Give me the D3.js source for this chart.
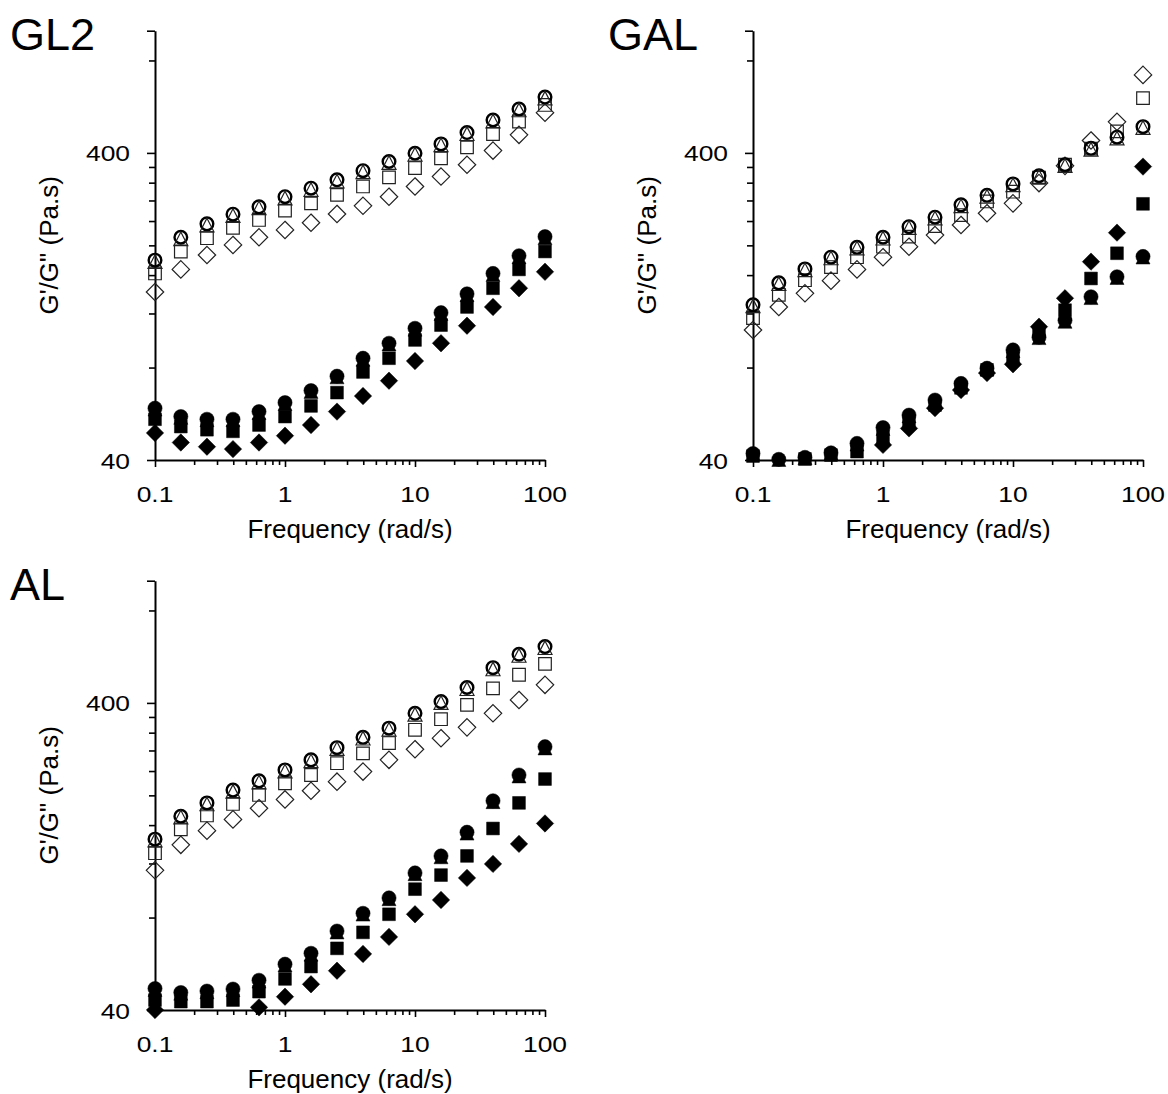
<!DOCTYPE html>
<html>
<head>
<meta charset="utf-8">
<script src="https://cdn.jsdelivr.net/npm/d3@7"></script>
<style>
    body { margin: 0; background: #fff; }
    svg text { font-family: "Liberation Sans", Arial, sans-serif; fill: #000; }
</style>
</head>
<body>
<svg id="chart" width="1168" height="1094"></svg>
<script>
// frequency sweep (rad/s)
var freq = [0.1, 0.158, 0.251, 0.398, 0.631, 1, 1.585, 2.512, 3.981, 6.31, 10, 15.85, 25.12, 39.81, 63.1, 100];

var xMajor = [0.1, 1, 10, 100];
var xMinor = [0.2, 0.3, 0.4, 0.5, 0.6, 0.7, 0.8, 0.9, 2, 3, 4, 5, 6, 7, 8, 9, 20, 30, 40, 50, 60, 70, 80, 90];
var yMajor = [40, 400, 1000];
var yMinor = [80, 120, 160, 200, 240, 280, 320, 360, 800];
var yLabels = [40, 400];

// GL2 : G' open, G'' filled
var gl2OpenCircle = [179, 212.5, 235, 252.6, 267, 288, 307, 327, 350, 375, 399, 428, 466, 512, 556, 608];
var gl2OpenTriangle = [177, 210, 233, 250, 265, 285, 304, 324, 347, 372, 396, 425, 462, 508, 552, 603];
var gl2OpenSquare = [162, 191, 211, 228, 242, 259.5, 274, 292, 311, 333, 357, 384, 417, 461, 506, 573];
var gl2OpenDiamond = [141, 167, 186, 200.6, 212.5, 224.5, 237, 253, 269, 288, 311, 335, 366, 407, 458, 541];
var gl2FillCircle = [59, 55.4, 54.3, 54.3, 57.5, 61.5, 67.3, 75, 85.8, 96, 107.4, 120.7, 139, 162, 185, 213.5];
var gl2FillTriangle = [58.5, 55, 54, 54, 57, 61, 66.8, 74.5, 85, 95.3, 106.5, 119.8, 138, 160.5, 183.5, 211.5];
var gl2FillSquare = [54.3, 51.4, 50.2, 49.6, 52, 55.4, 60, 66.3, 77.4, 85.8, 98.4, 110, 126, 145, 167, 191];
var gl2FillDiamond = [49, 45.6, 44.2, 43.4, 45.6, 48, 52, 57.5, 64.6, 72.5, 84, 96, 109.5, 126, 145, 164];

// GAL
var galOpenCircle = [128, 151, 167.6, 183, 197, 212.5, 230, 247, 271, 291, 317, 337, 366, 414, 450, 487];
var galOpenTriangle = [127, 150, 166.5, 182, 196, 211, 228.5, 245.5, 269, 289, 315, 335, 364, 411, 447, 484];
var galOpenSquare = [116, 138, 154, 170, 183, 198, 213.5, 231, 251, 278, 299, 332, 366, 413, 470, 603];
var galOpenDiamond = [106, 126, 139.6, 153.5, 167, 183, 198, 216, 233, 254.5, 274, 319, 363, 439, 505, 718];
var galFillCircle = [42, 40.2, 40.8, 42.2, 45.3, 51, 56, 62.7, 71, 79.6, 91.3, 100.4, 114, 136, 158, 184];
var galFillTriangle = [41.8, 40.1, 40.6, 42, 45, 50.6, 55.6, 62.3, 70.6, 79, 90.6, 100, 113, 135, 157, 183];
var galFillSquare = [41.2, 39.8, 40.3, 41.5, 42.6, 47.6, 53.3, 60.4, 68.7, 78.6, 85.8, 104.7, 123, 156, 188.5, 273];
var galFillDiamond = [38, 36.5, 37, 38, 39, 44.8, 50.7, 59, 67.6, 76.8, 82, 108.7, 134.5, 177, 220, 361];

// AL
var alOpenCircle = [144, 171, 189, 208, 223, 242, 261, 286, 309, 331, 370, 404, 449, 521, 576, 610];
var alOpenTriangle = [143, 170, 187.5, 206, 221, 240, 259, 284, 307, 328, 367, 401, 445, 516, 571, 605];
var alOpenSquare = [129.6, 155, 172, 187.5, 200.6, 219, 233, 254.5, 274, 296, 327, 354, 394, 446, 494, 536];
var alOpenDiamond = [114, 138, 153.5, 167, 181.6, 194, 207, 221.6, 239, 261, 282.6, 307, 333, 370, 409, 458];
var alFillCircle = [47, 45.6, 46.1, 46.8, 50, 56.4, 61.2, 72.3, 82.6, 92.7, 111.8, 127, 151.7, 192, 233, 288];
var alFillTriangle = [46.6, 45.3, 45.8, 46.5, 49.6, 56, 60.7, 71.7, 82, 92, 111, 126, 150.5, 190.5, 231, 285];
var alFillSquare = [43.1, 42.6, 42.6, 43.1, 45.9, 50.5, 55.4, 63.5, 71.6, 82, 99, 110, 127, 156, 189, 226];
var alFillDiamond = [40, 38.5, 38, 38.2, 40.8, 44.2, 48.5, 53.7, 60.9, 69.2, 82, 91.3, 107.7, 119.6, 139, 162];

var plotWidth = 390,
    plotHeight = 429.3;

var panels = [
    {
        title: 'GL2', left: 155, top: 30.7, titleX: 10, labelX: 58,
        series: {
            openCircle: gl2OpenCircle, openTriangle: gl2OpenTriangle, openSquare: gl2OpenSquare, openDiamond: gl2OpenDiamond,
            fillCircle: gl2FillCircle, fillTriangle: gl2FillTriangle, fillSquare: gl2FillSquare, fillDiamond: gl2FillDiamond
        }
    },
    {
        title: 'GAL', left: 753, top: 30.7, titleX: 608, labelX: 656,
        series: {
            openCircle: galOpenCircle, openTriangle: galOpenTriangle, openSquare: galOpenSquare, openDiamond: galOpenDiamond,
            fillCircle: galFillCircle, fillTriangle: galFillTriangle, fillSquare: galFillSquare, fillDiamond: galFillDiamond
        }
    },
    {
        title: 'AL', left: 155, top: 580.7, titleX: 10, labelX: 58,
        series: {
            openCircle: alOpenCircle, openTriangle: alOpenTriangle, openSquare: alOpenSquare, openDiamond: alOpenDiamond,
            fillCircle: alFillCircle, fillTriangle: alFillTriangle, fillSquare: alFillSquare, fillDiamond: alFillDiamond
        }
    }
];

// drawing order, last on top
var markers = [
    { key: 'fillDiamond', shape: 'diamond', filled: true },
    { key: 'fillSquare', shape: 'square', filled: true },
    { key: 'fillTriangle', shape: 'triangle', filled: true },
    { key: 'fillCircle', shape: 'circle', filled: true },
    { key: 'openDiamond', shape: 'diamond', filled: false },
    { key: 'openSquare', shape: 'square', filled: false },
    { key: 'openCircle', shape: 'circle', filled: false },
    { key: 'openTriangle', shape: 'triangle', filled: false }
];

var shapePath = function (shape, filled) {
    if (shape === 'diamond') {
        var h = 8.7;
        return 'M0,' + (-h) + 'L' + h + ',0L0,' + h + 'L' + (-h) + ',0Z';
    }
    if (shape === 'square') {
        var s = filled ? 6.4 : 6.3;
        return 'M' + (-s) + ',' + (-s) + 'H' + s + 'V' + s + 'H' + (-s) + 'Z';
    }
    if (shape === 'triangle') {
        var w = 7, t = 6.8;
        return 'M0,' + (-t) + 'L' + w + ',' + t + 'H' + (-w) + 'Z';
    }
    return null;
}

var svg = d3.select('#chart');

function drawPanel(p) {
    var x = d3.scaleLog().domain([0.1, 100]).range([0, plotWidth]);
    var y = d3.scaleLog().domain([40, 1000]).range([plotHeight, 0]);

    svg.append('text')
        .attr('x', p.titleX)
        .attr('y', p.top + 19.5)
        .style('font-size', '45px')
        .text(p.title);

    var container = svg.append('g')
        .attr('transform', 'translate(' + p.left + ',' + p.top + ')');

    // x axis, minor then major
    container.append('g')
        .attr('transform', 'translate(0,' + plotHeight + ')')
        .call(d3.axisBottom(x).tickValues(xMinor).tickSize(5).tickSizeOuter(0).tickFormat(''))
        .call(function (g) { g.select('.domain').remove(); });

    container.append('g')
        .attr('class', 'xaxis')
        .attr('transform', 'translate(0,' + plotHeight + ')')
        .call(d3.axisBottom(x).tickValues(xMajor).tickSize(7).tickSizeOuter(0).tickFormat(''));

    // y axis
    container.append('g')
        .call(d3.axisLeft(y).tickValues(yMinor).tickSize(6).tickSizeOuter(0).tickFormat(''))
        .call(function (g) { g.select('.domain').remove(); });

    container.append('g')
        .attr('class', 'yaxis')
        .call(d3.axisLeft(y).tickValues(yMajor).tickSize(8).tickSizeOuter(0).tickFormat(''));

    container.selectAll('.tick line').attr('stroke', '#000').attr('stroke-width', 1.6);
    container.selectAll('.domain').attr('stroke', '#000').attr('stroke-width', 2);

    // tick labels
    xMajor.forEach(function (v) {
        container.append('text')
            .attr('transform', 'translate(' + x(v) + ',' + (plotHeight + 42) + ') scale(1.2,1)')
            .attr('text-anchor', 'middle')
            .style('font-size', '22px')
            .text(v);
    });

    yLabels.forEach(function (v) {
        container.append('text')
            .attr('transform', 'translate(-25,' + (y(v) + 8.5) + ') scale(1.2,1)')
            .attr('text-anchor', 'end')
            .style('font-size', '22px')
            .text(v);
    });

    container.append('text')
        .attr('x', plotWidth / 2)
        .attr('y', plotHeight + 78)
        .attr('text-anchor', 'middle')
        .style('font-size', '26px')
        .text('Frequency (rad/s)');

    container.append('text')
        .attr('transform', 'translate(' + (p.labelX - p.left) + ',' + (plotHeight / 2) + ') rotate(-90)')
        .attr('text-anchor', 'middle')
        .style('font-size', '26px')
        .text('G\'/G" (Pa.s)');

    // markers
    markers.forEach(function (m) {
        var values = p.series[m.key];
        var pts = freq.map(function (f, i) {
            return { f: f, v: values[i] };
        }).filter(function (d) {
            return d.v >= 40 && d.v <= 1000;
        });

        var grp = container.append('g').attr('class', m.key);

        if (m.shape === 'circle') {
            grp.selectAll('circle')
                .data(pts)
                .enter().append('circle')
                .attr('cx', function (d) { return x(d.f); })
                .attr('cy', function (d) { return y(d.v); })
                .attr('r', m.filled ? 7.1 : 6.3)
                .attr('fill', m.filled ? '#000' : 'none')
                .attr('stroke', '#000')
                .attr('stroke-width', m.filled ? 0.5 : 2.4);
        } else {
            grp.selectAll('path')
                .data(pts)
                .enter().append('path')
                .attr('transform', function (d) {
                    return 'translate(' + x(d.f) + ',' + y(d.v) + ')';
                })
                .attr('d', shapePath(m.shape, m.filled))
                .attr('fill', m.filled ? '#000' : 'none')
                .attr('stroke', m.filled ? '#000' : '#222')
                .attr('stroke-width', m.filled ? 0.5 : 1.2);
        }
    });
}

panels.forEach(drawPanel);
</script>
</body>
</html>
